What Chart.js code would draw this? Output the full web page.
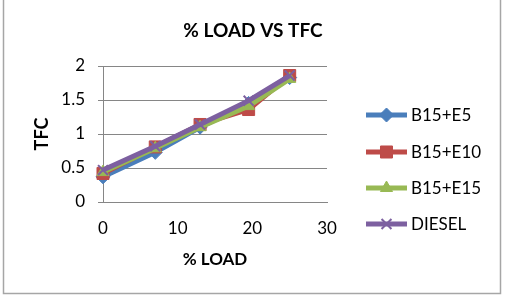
<!DOCTYPE html>
<html>
<head>
<meta charset="utf-8">
<script src="https://cdn.jsdelivr.net/npm/chart.js@4/dist/chart.umd.min.js"></script>
<style>
  html, body { margin: 0; padding: 0; background: #fff; }
  #wrap { width: 505px; height: 306px; position: relative; }
</style>
</head>
<body>
<div id="wrap"><canvas id="chart" width="505" height="306"></canvas></div>
<script>
/* data */
const loads = [0, 7, 13, 19.5, 25];
const seriesNames = ["B15+E5", "B15+E10", "B15+E15", "DIESEL"];
const tfcB15E5 = [0.37, 0.73, 1.1, 1.45, 1.83];
const tfcB15E10 = [0.42, 0.81, 1.14, 1.36, 1.86];
const tfcB15E15 = [0.44, 0.79, 1.1, 1.41, 1.81];
const tfcDiesel = [0.47, 0.82, 1.14, 1.49, 1.86];
const xTicks = [0, 10, 20, 30];
const yTicks = [0, 0.5, 1, 1.5, 2];
const chartTitle = "% LOAD VS TFC";

const FONT = "Lato, 'Liberation Sans', sans-serif";
const colors = ["#4a7ebb", "#be4b48", "#98b954", "#7d60a0"];
const styles = ["rectRot", "rect", "triangle", "crossRot"];
const radii = [7, 8.5, 7, 7];

const allSeries = [tfcB15E5, tfcB15E10, tfcB15E15, tfcDiesel];

const datasets = allSeries.map((vals, i) => ({
    label: seriesNames[i],
    data: vals.map((v, j) => ({ x: loads[j], y: v })),
    borderColor: colors[i],
    backgroundColor: colors[i],
    borderWidth: 5,
    pointStyle: styles[i],
    pointRadius: radii[i],
    pointBorderWidth: i === 3 ? 2 : 1,
    pointBorderColor: colors[i],
    order: 4 - i,
    clip: false,
    tension: 0
}));

/* frame round the whole picture + title centred on the page */
const framePlugin = {
    id: "frame",
    beforeDraw(chart) {
        const ctx = chart.ctx;
        ctx.save();
        ctx.strokeStyle = "#a6a6a6";
        ctx.lineWidth = 1.5;
        ctx.strokeRect(3.5, -1, 497, 294.5);
        ctx.fillStyle = "#000";
        ctx.font = "bold 19px " + FONT;
        ctx.textAlign = "center";
        ctx.textBaseline = "middle";
        ctx.fillText(chartTitle, 253, 31);
        ctx.restore();
    }
};

/* Excel-like legend on the right */
const legendPlugin = {
    id: "sideLegend",
    afterDraw(chart) {
        const ctx = chart.ctx;
        const rows = [115, 152, 188, 224];
        ctx.save();
        chart.data.datasets.forEach((ds, i) => {
            const y = rows[i];
            ctx.strokeStyle = ds.borderColor;
            ctx.lineWidth = 5;
            ctx.beginPath();
            ctx.moveTo(366, y);
            ctx.lineTo(407, y);
            ctx.stroke();
            ctx.fillStyle = ds.backgroundColor;
            ctx.lineWidth = ds.pointBorderWidth;
            Chart.helpers.drawPoint(ctx, {
                pointStyle: ds.pointStyle,
                radius: ds.pointRadius,
                rotation: 0,
                borderWidth: ds.pointBorderWidth
            }, 386.5, y);
            ctx.fillStyle = "#000";
            ctx.font = "17px " + FONT;
            ctx.textBaseline = "middle";
            ctx.textAlign = "left";
            ctx.fillText(ds.label, 411, y + 1);
        });
        ctx.restore();
    }
};

new Chart(document.getElementById("chart"), {
    type: "line",
    data: { datasets },
    options: {
        responsive: false,
        animation: false,
        layout: { padding: { left: 0, right: 178, top: 66, bottom: 0 } },
        plugins: {
            legend: { display: false },
            tooltip: { enabled: false },
            title: { display: false }
        },
        scales: {
            x: {
                type: "linear",
                min: 0, max: 30,
                afterBuildTicks: s => { s.ticks = xTicks.map(v => ({ value: v })); },
                afterFit: s => { s.height = 104; },
                grid: { display: false, drawTicks: false },
                border: { display: true, color: "#868686", width: 1 },
                ticks: { color: "#000", font: { family: FONT, size: 17 }, padding: 16 },
                title: {
                    display: true, text: "% LOAD", color: "#000",
                    font: { family: FONT, size: 17, weight: "bold" },
                    padding: { top: 36, bottom: 36 }
                }
            },
            y: {
                min: 0, max: 2,
                afterBuildTicks: s => { s.ticks = yTicks.map(v => ({ value: v })); },
                afterFit: s => { s.width = 103; },
                grid: { color: "#868686", lineWidth: 1, tickLength: 5 },
                border: { display: true, color: "#868686", width: 1 },
                ticks: {
                    color: "#000", font: { family: FONT, size: 17 }, padding: 13,
                    callback: v => String(v)
                },
                title: {
                    display: true, text: "TFC", color: "#000",
                    font: { family: FONT, size: 18, weight: "bold" },
                    padding: { top: 31, bottom: 31 }
                }
            }
        }
    },
    plugins: [framePlugin, legendPlugin]
});
</script>
</body>
</html>
